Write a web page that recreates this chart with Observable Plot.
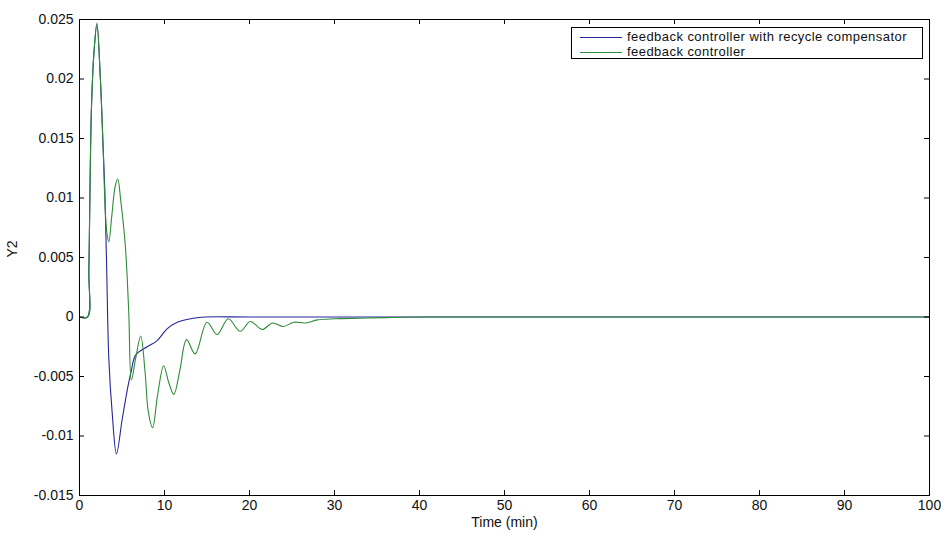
<!DOCTYPE html>
<html>
<head>
<meta charset="utf-8">
<script src="https://cdn.jsdelivr.net/npm/d3@7"></script>
<script src="https://cdn.jsdelivr.net/npm/@observablehq/plot@0.6"></script>
<style>
  html, body { margin: 0; padding: 0; background: #fff; }
  #wrap { position: relative; width: 941px; height: 535px; font-family: "Liberation Sans", Arial, sans-serif; }
  #legend { position: absolute; left: 571px; top: 27px; width: 352px; height: 32px; border: 1px solid #000; background: #fff; box-sizing: border-box; font-size: 13px; color: #111; letter-spacing: 0.45px; }
  #legend .row { position: absolute; left: 8px; height: 14px; line-height: 14px; display: flex; align-items: center; }
  #legend .row svg { display: block; }
  #legend .row span { margin-left: 5px; white-space: nowrap; line-height: 14px; }
</style>
</head>
<body>
<div id="wrap"></div>
<script>
// ---- data ----
const seriesNames = ["feedback controller with recycle compensator", "feedback controller"];
const seriesColors = ["#26269a", "#2f8c3a"];

const timeBlue = [0, 0.95, 1.1, 1.4, 1.7, 2.05, 2.45, 2.75, 2.98, 3.2, 3.45, 3.85, 4.35, 5.0, 5.6, 6.1, 6.6, 7.96, 9.1, 10.3, 11.5, 13.4, 14.8, 20, 40, 60, 80, 100];
const y2Blue   = [0, 0, 0.004, 0.0174, 0.0222, 0.0246, 0.0201, 0.0148, 0.0106, 0.004, -0.0035, -0.0081, -0.0115, -0.0087, -0.0062, -0.0045, -0.0032, -0.0025, -0.002, -0.001, -0.00044, -0.0001, 0, 0, 0, 0, 0, 0];

const timeGreen = [0, 0.95, 1.1, 1.4, 1.7, 2.05, 2.45, 2.75, 3.0, 3.2, 3.45, 3.8, 4.2, 4.5, 4.85, 5.4, 5.8, 6.1, 6.6, 7.2, 7.7, 8.1, 8.6, 9.2, 9.9, 10.5, 11.1, 11.8, 12.6, 13.6, 15.0, 16.2, 17.5, 18.9, 20.1, 21.5, 22.7, 24.0, 25.2, 26.6, 28, 30, 33, 36, 40, 60, 80, 100];
const y2Green   = [0, 0, 0.004, 0.0174, 0.0222, 0.0247, 0.0201, 0.0148, 0.0095, 0.0072, 0.0063, 0.0085, 0.011, 0.0116, 0.0098, 0.0059, 0.0003, -0.0053, -0.0035, -0.0016, -0.0045, -0.008, -0.0093, -0.0065, -0.0041, -0.0055, -0.0065, -0.0045, -0.0019, -0.0031, -0.00044, -0.00147, -0.00015, -0.0012, -0.00038, -0.00105, -0.0005, -0.0008, -0.00044, -0.0005, -0.00024, -0.00015, -0.0001, -0.00005, 0, 0, 0, 0];

const xTicks = [0, 10, 20, 30, 40, 50, 60, 70, 80, 90, 100];
const xTickLabels = ["0", "10", "20", "30", "40", "50", "60", "70", "80", "90", "100"];
const yTicks = [-0.015, -0.01, -0.005, 0, 0.005, 0.01, 0.015, 0.02, 0.025];
const yTickLabels = ["-0.015", "-0.01", "-0.005", "0", "0.005", "0.01", "0.015", "0.02", "0.025"];
const xLabel = "Time (min)";
const yLabel = "Y2";

// ---- build ----
const W = 941, H = 535;
const mL = 79, mR = 12, mT = 19, mB = 40;
const pw = W - mL - mR, ph = H - mT - mB;

const blue = timeBlue.map((t, i) => ({t, v: y2Blue[i]}));
const green = timeGreen.map((t, i) => ({t, v: y2Green[i]}));

const chart = Plot.plot({
  width: W, height: H,
  marginLeft: mL, marginRight: mR, marginTop: mT, marginBottom: mB,
  style: {fontFamily: '"Liberation Sans", Arial, sans-serif', fontSize: "14px", color: "#111", background: "#fff"},
  x: {domain: [0, 100]},
  y: {domain: [-0.015, 0.025]},
  marks: [
    Plot.lineY(blue, {x: "t", y: "v", stroke: seriesColors[0], strokeWidth: 1.1, curve: "catmull-rom"}),
    Plot.lineY(green, {x: "t", y: "v", stroke: seriesColors[1], strokeWidth: 1.1, curve: "catmull-rom"}),
    Plot.frame({stroke: "#000", strokeWidth: 1}),
    // inward tick marks on all four sides
    Plot.tickX(xTicks, {x: d => d, insetTop: ph - 5, stroke: "#000"}),
    Plot.tickX(xTicks, {x: d => d, insetBottom: ph - 5, stroke: "#000"}),
    Plot.tickY(yTicks, {y: d => d, insetRight: pw - 5, stroke: "#000"}),
    Plot.tickY(yTicks, {y: d => d, insetLeft: pw - 5, stroke: "#000"}),
    Plot.axisX(xTicks, {anchor: "bottom", tickSize: 0, tickPadding: 5, fontSize: 14, tickFormat: d => xTickLabels[xTicks.indexOf(d)], label: null, fill: "#111"}),
    Plot.axisY(yTicks, {anchor: "left", tickSize: 0, tickPadding: 6, fontSize: 14, tickFormat: d => yTickLabels[yTicks.indexOf(d)], label: null, fill: "#111"}),
    Plot.text([xLabel], {frameAnchor: "bottom", dy: 31, fill: "#111", fontSize: 14}),
    Plot.text([yLabel], {frameAnchor: "left", dx: -67, rotate: -90, fill: "#111", fontSize: 14})
  ]
});

const wrap = document.getElementById("wrap");
wrap.appendChild(chart);

// legend overlay
const legend = document.createElement("div");
legend.id = "legend";
seriesNames.forEach((name, i) => {
  const row = document.createElement("div");
  row.className = "row";
  row.style.top = (i === 0 ? 2 : 16.5) + "px";
  row.innerHTML = `<svg width="42" height="14"><line x1="0" x2="42" y1="7.5" y2="7.5" stroke="${seriesColors[i]}" stroke-width="1.1"/></svg><span>${name}</span>`;
  legend.appendChild(row);
});
wrap.appendChild(legend);
</script>
</body>
</html>
